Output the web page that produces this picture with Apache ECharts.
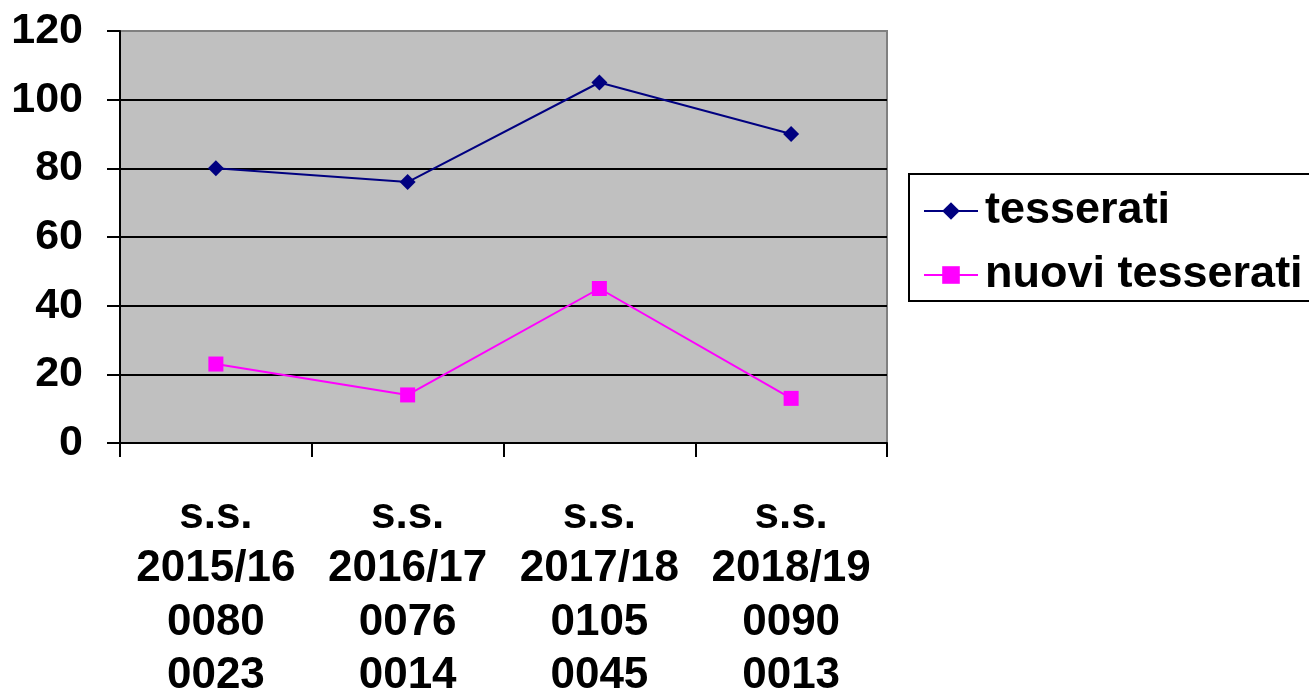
<!DOCTYPE html>
<html>
<head>
<meta charset="utf-8">
<script src="https://cdn.jsdelivr.net/npm/echarts@6/dist/echarts.min.js"></script>
<style>
    html, body { margin: 0; padding: 0; background: #fff; }
    #chart { width: 1309px; height: 692px; }
</style>
</head>
<body>
<div id="chart"></div>
<script>
// dati
const seasons = ['2015/16', '2016/17', '2017/18', '2018/19']
const tesserati = [80, 76, 105, 90]
const nuoviTesserati = [23, 14, 45, 13]
const yTicks = { min: 0, max: 120, interval: 20 }

const FONT = '"Liberation Sans", Arial, sans-serif'

function pad4(n) {
    return ('0000' + n).slice(-4)
}

// etichette a più righe: stagione + valori
const categories = seasons.map((s, i) => {
    return 's.s.\n' + s + '\n' + pad4(tesserati[i]) + '\n' + pad4(nuoviTesserati[i])
})

let myChart = echarts.init(document.getElementById('chart'))

let option = {
    animation: false,
    backgroundColor: '#fff',
    textStyle: { fontFamily: FONT },
    grid: {
        left: 120,
        right: 422,
        top: 31,
        bottom: 249,
        outerBoundsMode: 'none',
        containLabel: false,
        show: true,
        backgroundColor: '#c0c0c0',
        borderColor: '#808080',
        borderWidth: 2
    },
    legend: {
        orient: 'vertical',
        left: 909,
        top: 174,
        padding: [14, 40, 3, 14],
        itemGap: 18,
        itemWidth: 54,
        itemHeight: 22,
        borderColor: '#000',
        borderWidth: 2,
        backgroundColor: '#fff',
        textStyle: {
            fontFamily: FONT,
            fontSize: 45,
            fontWeight: 'bold',
            color: '#000',
            lineHeight: 44,
            padding: [2, 0, 0, 2]
        }
    },
    xAxis: {
        type: 'category',
        data: categories,
        boundaryGap: true,
        axisLine: { lineStyle: { color: '#000', width: 2 } },
        axisTick: { show: true, length: 14, lineStyle: { color: '#000', width: 2 } },
        axisLabel: {
            margin: 46,
            interval: 0,
            fontFamily: FONT,
            fontSize: 44,
            fontWeight: 'bold',
            color: '#000',
            lineHeight: 53.5
        },
        splitLine: { show: false }
    },
    yAxis: {
        type: 'value',
        min: yTicks.min,
        max: yTicks.max,
        interval: yTicks.interval,
        axisLine: { show: true, lineStyle: { color: '#000', width: 2 } },
        axisTick: { show: true, length: 13, lineStyle: { color: '#000', width: 2 } },
        axisLabel: {
            margin: 37,
            fontFamily: FONT,
            fontSize: 43,
            fontWeight: 'bold',
            color: '#000'
        },
        splitLine: {
            show: true,
            showMaxLine: false,
            lineStyle: { color: '#000', width: 2 }
        }
    },
    series: [
        {
            name: 'tesserati',
            type: 'line',
            data: tesserati,
            symbol: 'diamond',
            symbolSize: 16,
            lineStyle: { color: '#000080', width: 2 },
            itemStyle: { color: '#000080' }
        },
        {
            name: 'nuovi tesserati',
            type: 'line',
            data: nuoviTesserati,
            symbol: 'rect',
            symbolSize: 15,
            lineStyle: { color: '#ff00ff', width: 2 },
            itemStyle: { color: '#ff00ff' }
        }
    ]
}

myChart.setOption(option)
</script>
</body>
</html>
